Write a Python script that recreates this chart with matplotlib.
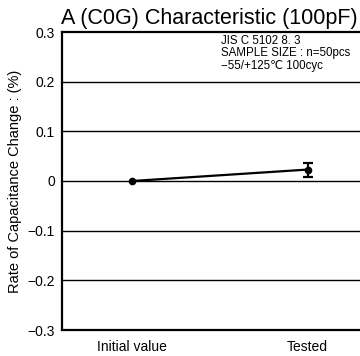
import matplotlib
matplotlib.use("Agg")
from matplotlib import pyplot as plt

plt.rcParams["font.family"] = ["Liberation Sans", "DejaVu Sans"]

categories = ["Initial value", "Tested"]
change_pct = [0.0, 0.023]
err_low = [0.0, 0.015]
err_high = [0.0, 0.013]
yticks = [-0.3, -0.2, -0.1, 0.0, 0.1, 0.2, 0.3]
ytick_labels = ["\u22120.3", "\u22120.2", "\u22120.1", "0", "0.1", "0.2", "0.3"]

fig = plt.figure(figsize=(3.6, 3.56), dpi=100)
ax = fig.add_axes([62 / 360, 26 / 356, 300 / 360, 298 / 356])

x = list(range(len(categories)))
ax.plot(x, change_pct, color="black", lw=1.6, marker="o", ms=4.5, zorder=3)
ax.errorbar(x[1:], change_pct[1:], yerr=[err_low[1:], err_high[1:]],
            fmt="none", ecolor="black", elinewidth=1.6, capsize=3.5,
            capthick=1.6, zorder=3)

ax.set_xlim(-0.4, 1.31)
ax.set_ylim(-0.3, 0.3)
ax.set_yticks(yticks)
ax.set_yticklabels(ytick_labels, fontsize=10)
ax.set_xticks(x)
ax.set_xticklabels(categories, fontsize=10)
ax.tick_params(axis="y", length=0, pad=5)
ax.tick_params(axis="x", length=0, pad=7)
for t in yticks[1:-1]:
    ax.axhline(t, color="black", lw=1.0, zorder=1)

for side in ["left", "bottom", "top"]:
    ax.spines[side].set_linewidth(1.6)
ax.spines["right"].set_visible(False)

ax.set_ylabel("Rate of Capacitance Change : (%)", fontsize=10.5, labelpad=4)
ax.set_title("A (C0G) Characteristic (100pF)", fontsize=15.5, pad=6,
             x=0.49)

ax.text(0.53, 0.99, "JIS C 5102 8. 3\nSAMPLE SIZE : n=50pcs\n\u221255/+125\u2103 100cyc",
        transform=ax.transAxes, fontsize=8.3, va="top", ha="left",
        linespacing=1.05)

fig.savefig("out.png", dpi=100)
